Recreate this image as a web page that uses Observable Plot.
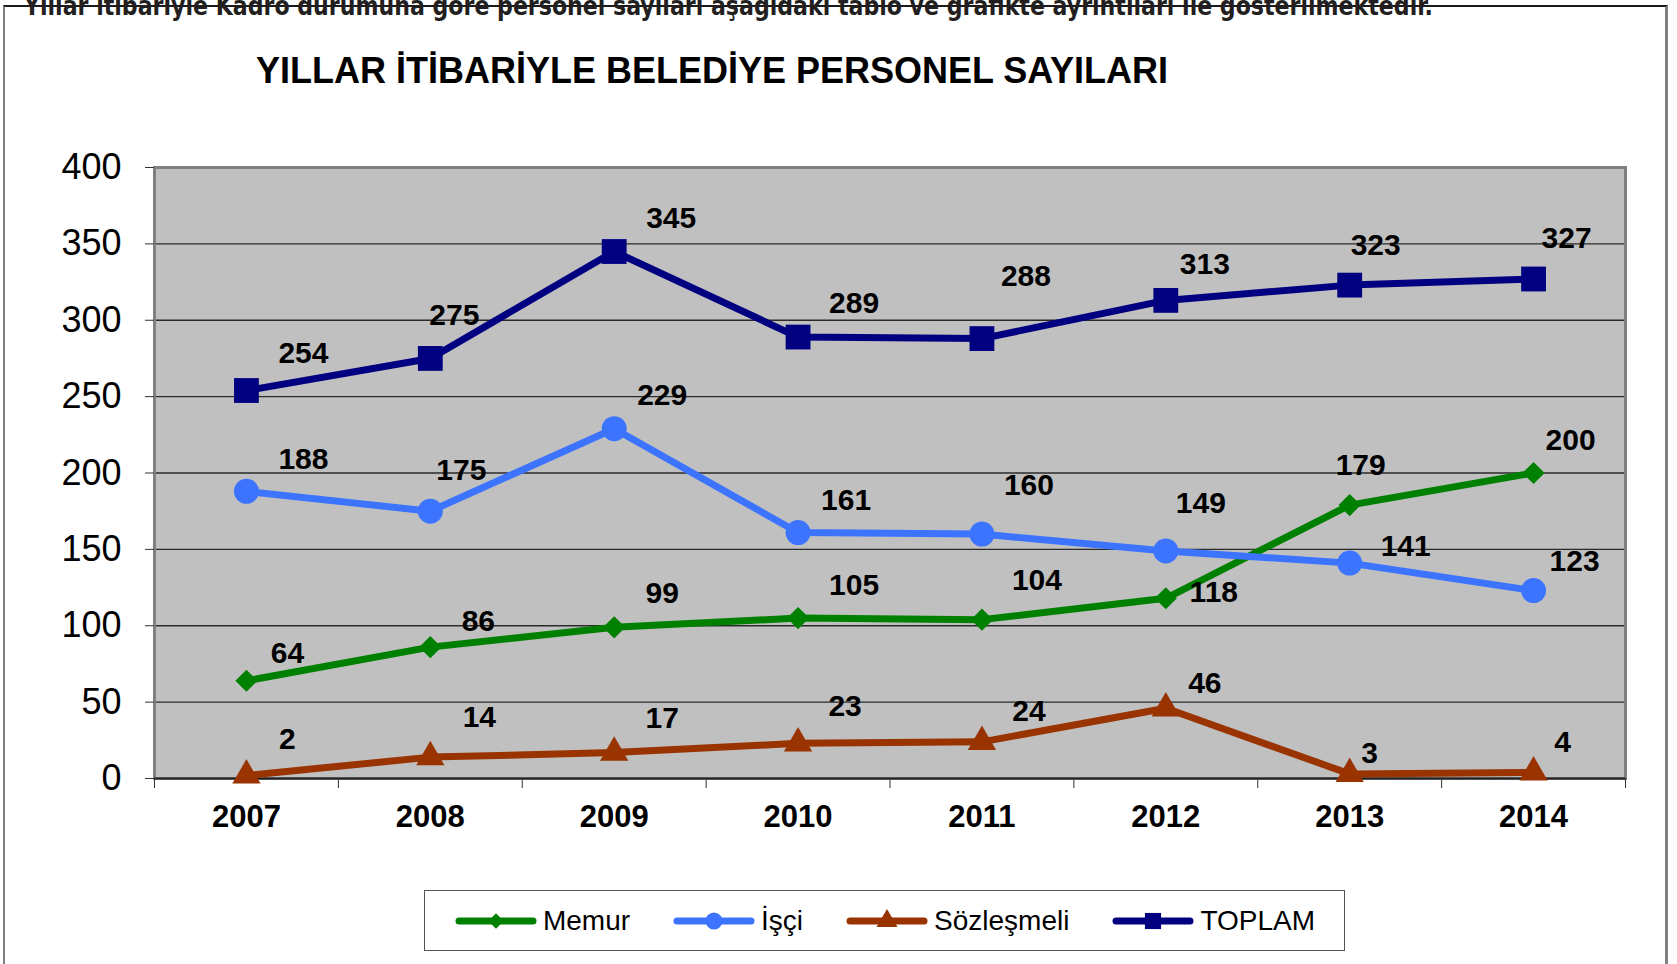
<!DOCTYPE html>
<html><head><meta charset="utf-8">
<script src="https://cdn.jsdelivr.net/npm/d3@7"></script>
<script src="https://cdn.jsdelivr.net/npm/@observablehq/plot@0.6"></script>
<style>
body{margin:0;background:#fff;}
#page{position:relative;width:1677px;height:964px;overflow:hidden;font-family:"Liberation Sans",Arial,sans-serif;background:#fff;}
#frame{position:absolute;left:3px;top:5px;width:1660px;height:1000px;border-left:2px solid #808080;border-top:2px solid #1a1a1a;border-right:3px solid #808080;}
#intro{position:absolute;left:24px;top:-7px;font-family:"DejaVu Sans Condensed","DejaVu Sans",sans-serif;font-weight:bold;font-size:26px;line-height:26px;white-space:nowrap;color:#231f20;transform-origin:left top;}
#title{position:absolute;left:0;width:1424px;text-align:center;top:53px;font-size:36px;line-height:36px;font-weight:bold;color:#000;}
#chart{position:absolute;left:0;top:100px;}
#legend{position:absolute;left:424px;top:890px;width:919px;height:59px;border:1.5px solid #555;background:#fff;display:flex;align-items:center;justify-content:center;gap:42px;font-size:28px;color:#000;}
.item{display:flex;align-items:center;gap:5px;}
</style></head>
<body>
<div id="page">
  <div id="frame"></div>
  <div id="intro">Yıllar itibariyle Kadro durumuna göre personel sayıları aşağıdaki tablo ve grafikte ayrıntıları ile gösterilmektedir.</div>
  <div id="title">YILLAR İTİBARİYLE BELEDİYE PERSONEL SAYILARI</div>
  <div id="chart"></div>
  <div id="legend"></div>
</div>
<script>
const years = [2007, 2008, 2009, 2010, 2011, 2012, 2013, 2014];
const seriesNames = ["Memur", "İşçi", "Sözleşmeli", "TOPLAM"];
const memur = [64, 86, 99, 105, 104, 118, 179, 200];
const isci = [188, 175, 229, 161, 160, 149, 141, 123];
const sozlesmeli = [2, 14, 17, 23, 24, 46, 3, 4];
const toplam = [254, 275, 345, 289, 288, 313, 323, 327];
const yTicks = [0, 50, 100, 150, 200, 250, 300, 350, 400];

// style: series colours, markers, and per-label nudges (pixels, relative to each point)
const colors = ["#008000", "#3d74ff", "#993300", "#000080"];
const symbols = ["diamond2", "circle", "triangle", "square"];
const radii = [10, 12.5, 10.5, 14];
const legendSymbols = [d3.symbolDiamond2, d3.symbolCircle, d3.symbolTriangle, d3.symbolSquare];
const legendSizes = [150, 230, 190, 260];
const labelDx = [
  [41, 48, 48, 56, 55, 48, 11, 37],
  [57, 31, 48, 48, 47, 35, 56, 41],
  [41, 49, 48, 47, 47, 39, 20, 29],
  [57, 24, 57, 56, 44, 39, 26, 33]
];
const labelDy = [
  [-27, -26, -34, -33, -39, -6, -40, -33],
  [-32, -41, -33, -32, -49, -48, -17, -29],
  [-36, -40, -34, -37, -30, -25, -21, -30],
  [-37, -43, -33, -34, -62, -36, -40, -41]
];

const valuesBySeries = [memur, isci, sozlesmeli, toplam];
const rows = [];
seriesNames.forEach((s, i) => valuesBySeries[i].forEach((v, j) => rows.push({series: s, si: i, yi: j, year: years[j], value: v})));
const bounds = [years[0] - 0.5, ...years.map(y => y + 0.5)];

const W = 1677, H = 780;
const marks = [
  Plot.frame({fill: "#c0c0c0"}),
  Plot.ruleY(yTicks.slice(1, -1), {stroke: "#2a2a2a", strokeWidth: 1.3}),
  Plot.frame({stroke: "#808080", strokeWidth: 3}),
  Plot.ruleY([0], {stroke: "#222", strokeWidth: 2}),
  Plot.axisY({ticks: yTicks, tickSize: 9, tickPadding: 24, fontSize: 36, tickFormat: d => String(d), stroke: "#333", fill: "#000"}),
  Plot.axisX({ticks: bounds, tickSize: 10, tickFormat: () => "", stroke: "#333"}),
  Plot.axisX({ticks: years, tickSize: 0, tickPadding: 26, fontSize: 31, fontWeight: "bold", tickFormat: d => String(d), fill: "#000"}),
  Plot.line(rows, {x: "year", y: "value", z: "series", stroke: "series", strokeWidth: 7, strokeLinecap: "round", strokeLinejoin: "round"})
];
seriesNames.forEach((s, i) => {
  marks.push(Plot.dot(rows.filter(d => d.series === s), {x: "year", y: "value", symbol: () => symbols[i], fill: colors[i], r: radii[i], stroke: "none"}));
});
rows.forEach(d => {
  marks.push(Plot.text([d], {x: "year", y: "value", text: r => String(r.value), dx: labelDx[d.si][d.yi], dy: labelDy[d.si][d.yi], fontSize: 30, fontWeight: "bold", fill: "#000"}));
});

const chart = Plot.plot({
  width: W, height: H,
  marginLeft: 154, marginRight: 52, marginTop: 67, marginBottom: 102,
  style: {fontFamily: "'Liberation Sans', Arial, sans-serif", background: "transparent", overflow: "visible", color: "#000"},
  x: {type: "linear", domain: [years[0] - 0.5, years[years.length - 1] + 0.5], label: null, axis: null},
  y: {domain: [0, 400], label: null, axis: null},
  color: {domain: seriesNames, range: colors},
  symbol: {domain: symbols, range: symbols},
  marks
});
document.getElementById("chart").appendChild(chart);

// legend
const legend = d3.select("#legend");
seriesNames.forEach((s, i) => {
  const item = legend.append("div").attr("class", "item");
  const svg = item.append("svg").attr("width", 84).attr("height", 28);
  svg.append("line").attr("x1", 5).attr("x2", 79).attr("y1", 14).attr("y2", 14)
    .attr("stroke", colors[i]).attr("stroke-width", 7).attr("stroke-linecap", "round");
  svg.append("path").attr("transform", "translate(42,14)")
    .attr("d", d3.symbol(legendSymbols[i], legendSizes[i])()).attr("fill", colors[i]);
  item.append("span").text(s);
});

// fit intro text width
const intro = document.getElementById("intro");
const w = intro.getBoundingClientRect().width;
intro.style.transform = `scaleX(${1409 / w})`;
</script>
</body></html>
